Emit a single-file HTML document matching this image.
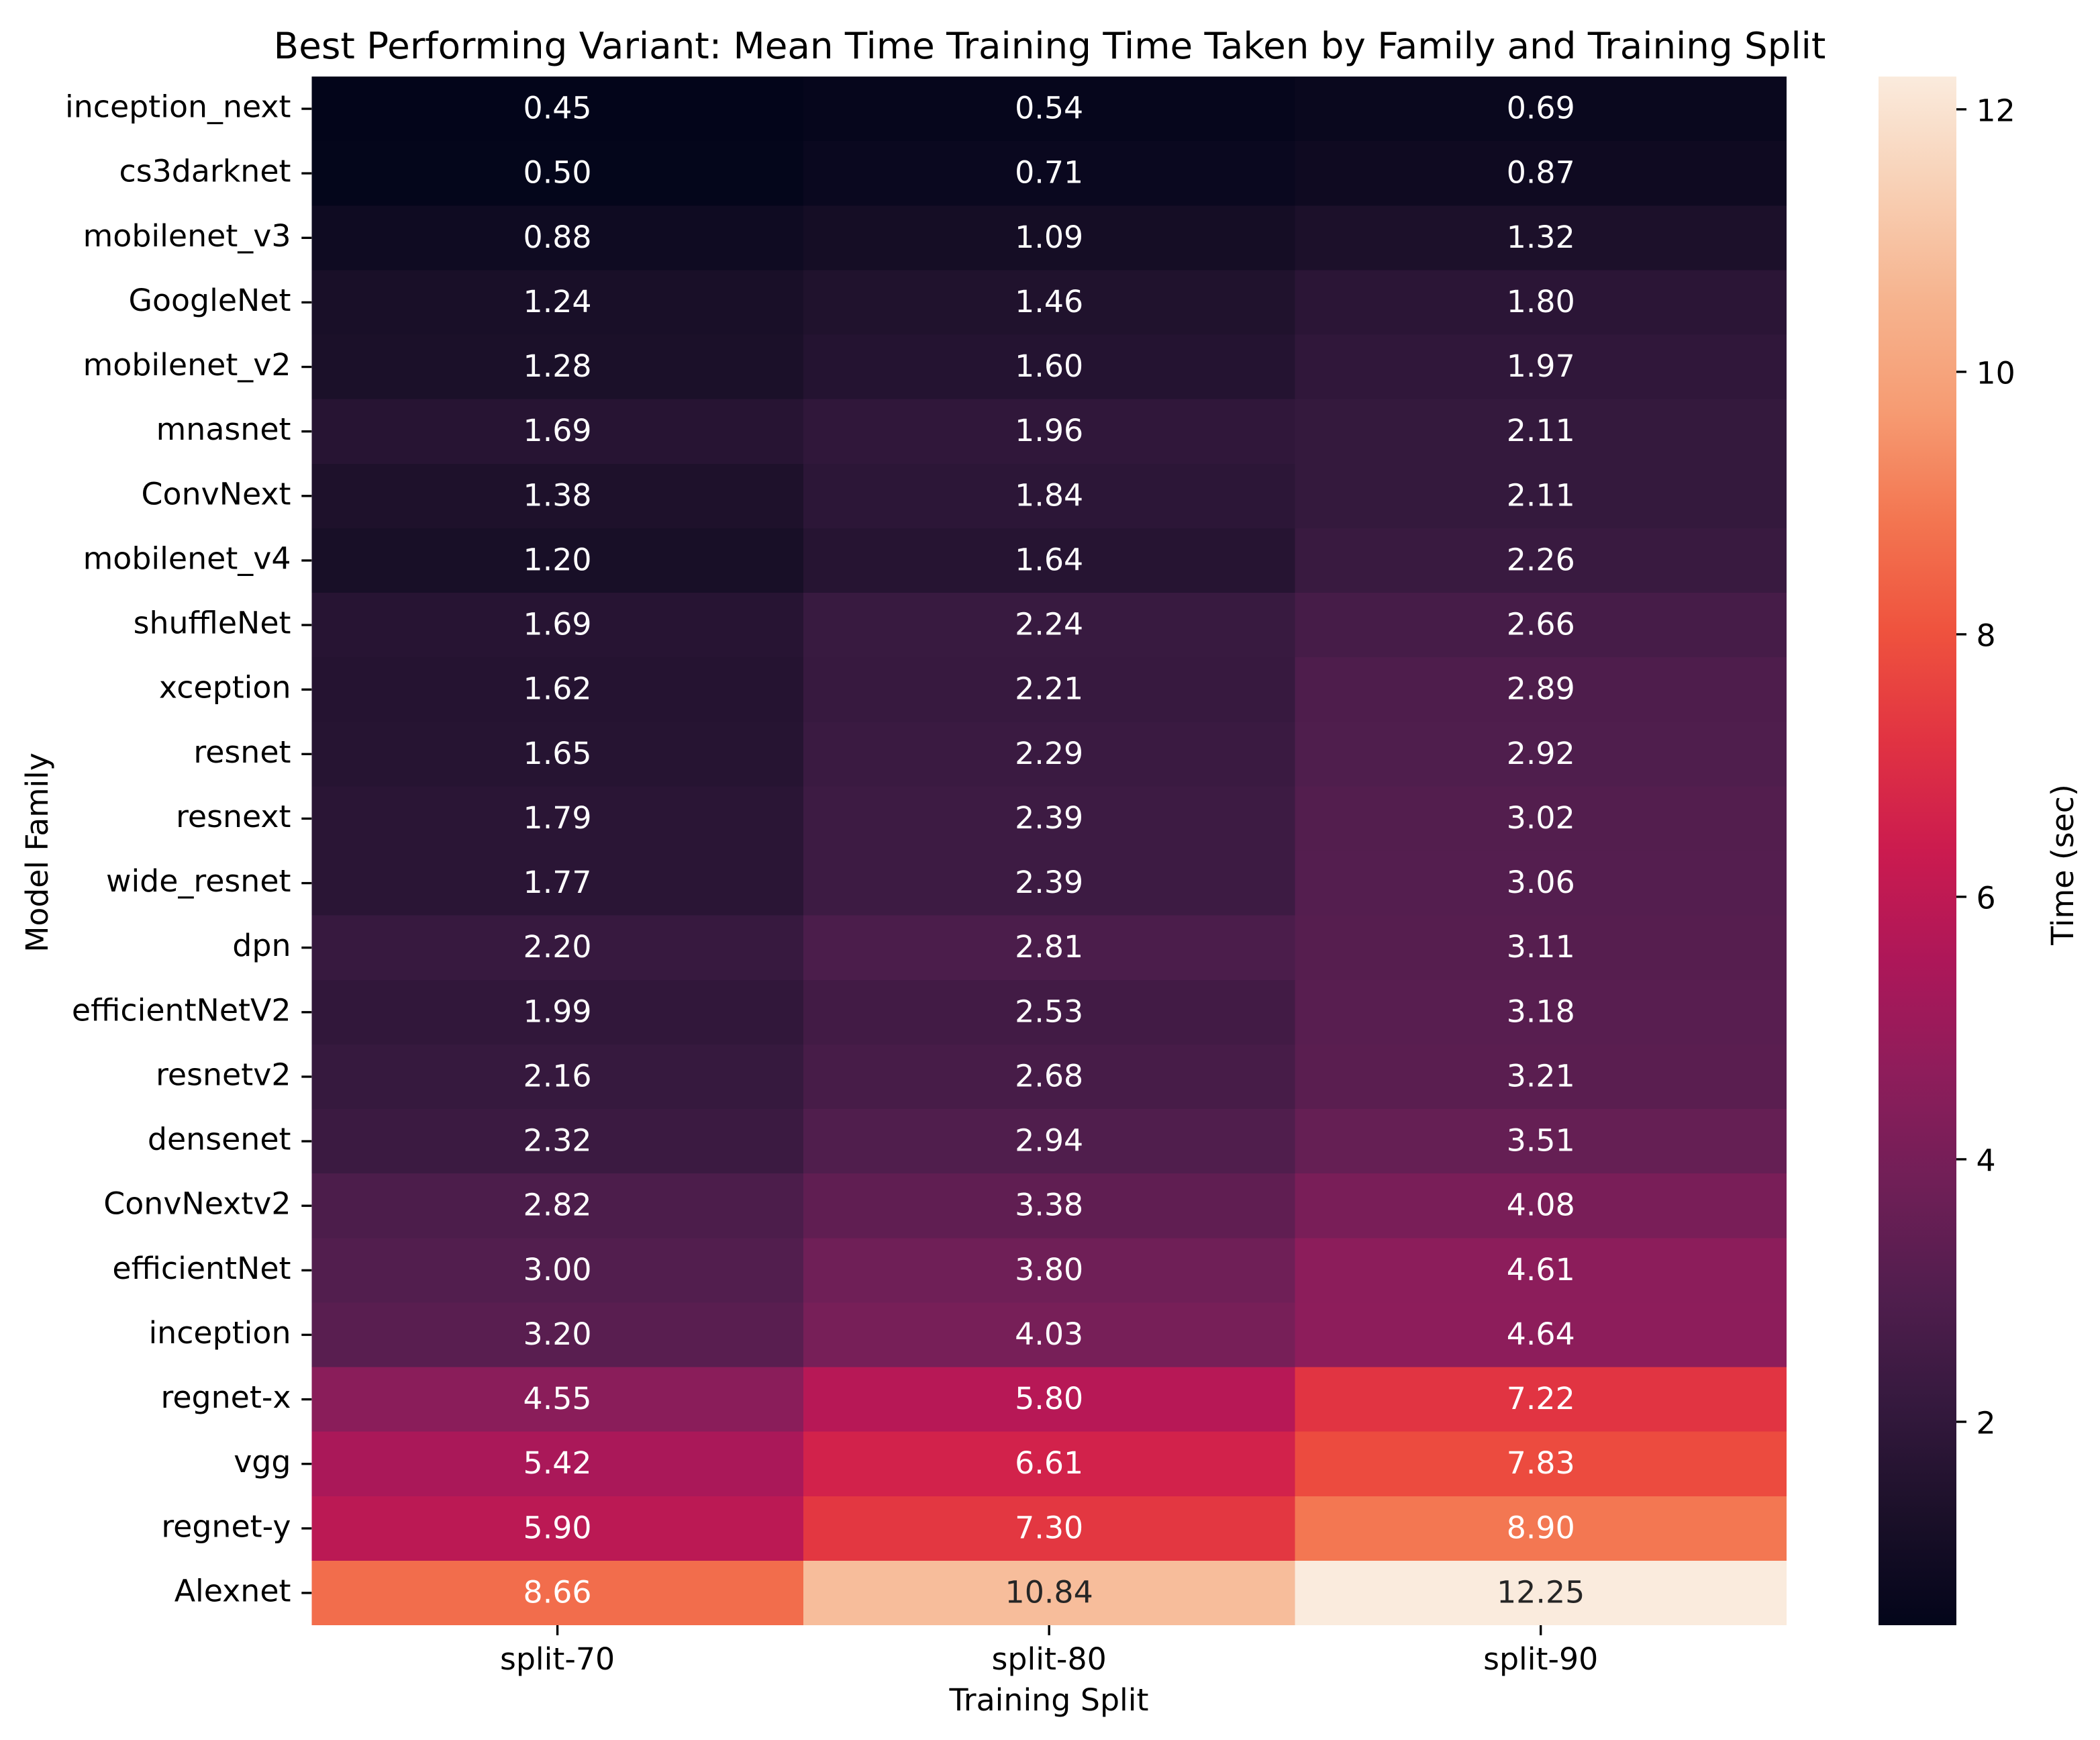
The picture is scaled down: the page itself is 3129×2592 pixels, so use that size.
<!DOCTYPE html>
<html lang="en">
<head>
<meta charset="utf-8">
<title>Best Performing Variant: Mean Time Training Time Taken by Family and Training Split</title>
<style>
html,body{margin:0;padding:0;background:#fff;width:3129px;height:2592px;overflow:hidden}
svg{display:block}
text{font-family:"DejaVu Sans","Liberation Sans",sans-serif;fill:#000}
</style>
</head>
<body>
<svg id="chart" xmlns="http://www.w3.org/2000/svg" width="3129" height="2592" viewBox="0 0 3129 2592">
  <rect x="0" y="0" width="3129" height="2592" fill="#fff"/>
  <defs><linearGradient id="cbar-gradient" x1="0" y1="1" x2="0" y2="0"></linearGradient></defs>
  <g id="cells" shape-rendering="crispEdges"></g>
  <g id="annots"></g>
  <g id="yaxis"></g>
  <g id="xaxis"></g>
  <rect id="cbar" x="2799" y="114" width="116" height="2307" fill="url(#cbar-gradient)"/>
  <g id="cbaraxis"></g>
  <text x="1564" y="87" font-size="54.7" text-anchor="middle">Best Performing Variant: Mean Time Training Time Taken by Family and Training Split</text>
  <text x="1563" y="2548" font-size="45.83" text-anchor="middle">Training Split</text>
  <text transform="translate(71 1270) rotate(-90)" font-size="45.5" text-anchor="middle">Model Family</text>
  <text transform="translate(3089 1288) rotate(-90)" font-size="45.83" text-anchor="middle">Time (sec)</text>
</svg>
<script>
const families = ["inception_next","cs3darknet","mobilenet_v3","GoogleNet","mobilenet_v2","mnasnet","ConvNext","mobilenet_v4","shuffleNet","xception","resnet","resnext","wide_resnet","dpn","efficientNetV2","resnetv2","densenet","ConvNextv2","efficientNet","inception","regnet-x","vgg","regnet-y","Alexnet"];
const splits = ["split-70","split-80","split-90"];
const split70 = [0.45,0.50,0.88,1.24,1.28,1.69,1.38,1.20,1.69,1.62,1.65,1.79,1.77,2.20,1.99,2.16,2.32,2.82,3.00,3.20,4.55,5.42,5.90,8.66];
const split80 = [0.54,0.71,1.09,1.46,1.60,1.96,1.84,1.64,2.24,2.21,2.29,2.39,2.39,2.81,2.53,2.68,2.94,3.38,3.80,4.03,5.80,6.61,7.30,10.84];
const split90 = [0.69,0.87,1.32,1.80,1.97,2.11,2.11,2.26,2.66,2.89,2.92,3.02,3.06,3.11,3.18,3.21,3.51,4.08,4.61,4.64,7.22,7.83,8.90,12.25];
const colorbarTicks = [2,4,6,8,10,12];
const rocket = ["#03051a","#1b1029","#35193e","#511e4e","#701f57","#8e1d5b","#ad1759","#cb1b4f","#e13342","#ef533e","#f37651","#f69c73","#f6b48f","#f8d0b5","#faebdd"];

const NS = "http://www.w3.org/2000/svg";
const plot = {left:464.3, right:2662, top:114, bottom:2421};
const series = [split70, split80, split90];
const allValues = series.flat();
const vmin = Math.min(...allValues);
const vmax = Math.max(...allValues);

function xScale(i){ return plot.left + (plot.right - plot.left) * i / splits.length; }
function yScale(i){ return plot.top + (plot.bottom - plot.top) * i / families.length; }
function cbarScale(v){ return plot.bottom - (plot.bottom - plot.top) * (v - vmin) / (vmax - vmin); }

function parseHex(h){ return [1,3,5].map(function(p){ return parseInt(h.substr(p,2),16); }); }
function mapColor(t){
  t = Math.max(0, Math.min(1, t));
  const p = t * (rocket.length - 1);
  const i = Math.min(Math.floor(p), rocket.length - 2);
  const f = p - i;
  const a = parseHex(rocket[i]), b = parseHex(rocket[i + 1]);
  return a.map(function(c, k){ return c + (b[k] - c) * f; });
}
function colorScale(v){ return mapColor((v - vmin) / (vmax - vmin)); }
function rgb(c){ return "rgb(" + c.map(Math.round).join(",") + ")"; }
function luminance(c){
  const l = c.map(function(x){ const s = x / 255; return s <= 0.03928 ? s / 12.92 : Math.pow((s + 0.055) / 1.055, 2.4); });
  return 0.2126 * l[0] + 0.7152 * l[1] + 0.0722 * l[2];
}
function make(tag, attrs, parent, txt){
  const el = document.createElementNS(NS, tag);
  for (const k in attrs) el.setAttribute(k, attrs[k]);
  if (txt !== undefined) el.textContent = txt;
  parent.appendChild(el);
  return el;
}

const cellsG = document.getElementById("cells");
const annotsG = document.getElementById("annots");
const yaxisG = document.getElementById("yaxis");
const xaxisG = document.getElementById("xaxis");
const cbarG = document.getElementById("cbaraxis");

series.forEach(function(vals, c){
  vals.forEach(function(v, r){
    const col = colorScale(v);
    const cell = make("rect", {x:xScale(c), y:yScale(r), width:xScale(c+1)-xScale(c), height:yScale(r+1)-yScale(r), fill:rgb(col)}, cellsG);
    
    
    const label = make("text", {x:(xScale(c)+xScale(c+1))/2, y:(yScale(r)+yScale(r+1))/2+14.5, "font-size":45.83, "text-anchor":"middle"}, annotsG, v.toFixed(2));
    label.style.fill = luminance(col) > 0.408 ? "#262626" : "#ffffff";
    
    
  });
});

families.forEach(function(name, r){
  const y = (yScale(r)+yScale(r+1))/2;
  const tick = make("rect", {x:plot.left-15, y:y-1.67, width:15, height:3.33, fill:"#000"}, yaxisG);
  
  
  const lab = make("text", {x:433.5, y:y+12.5, "font-size":45.83, "text-anchor":"end"}, yaxisG, name);
  
  
});

splits.forEach(function(name, c){
  const x = (xScale(c)+xScale(c+1))/2;
  const tick = make("rect", {x:x-1.67, y:plot.bottom, width:3.33, height:15, fill:"#000"}, xaxisG);
  
  
  const lab = make("text", {x:x, y:2487, "font-size":45.83, "text-anchor":"middle"}, xaxisG, name);
  
  
});

const grad = document.getElementById("cbar-gradient");
for (let i = 0; i < rocket.length; i++) {
  make("stop", {offset:(i/(rocket.length-1)), "stop-color":rocket[i]}, grad);
}

colorbarTicks.forEach(function(v){
  const y = cbarScale(v);
  const tick = make("rect", {x:2915, y:y-1.67, width:15, height:3.33, fill:"#000"}, cbarG);
  
  
  const lab = make("text", {x:2944.5, y:y+17.5, "font-size":45.83}, cbarG, String(v));
  
  
});
</script>
</body>
</html>
